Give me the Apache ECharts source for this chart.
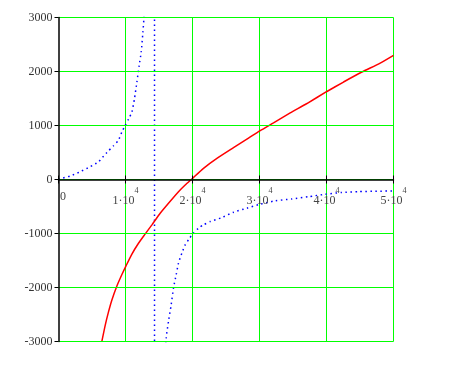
<!DOCTYPE html>
<html>
<head>
<meta charset="utf-8">
<script src="https://cdn.jsdelivr.net/npm/echarts@6/dist/echarts.min.js"></script>
<style>
html,body{margin:0;padding:0;background:#fff;}
#chart{width:458px;height:376px;}
</style>
</head>
<body>
<div id="chart"></div>
<script>
// axis ranges / ticks
var xTicks = [0, 10000, 20000, 30000, 40000, 50000];
var yTicks = [-3000, -2000, -1000, 0, 1000, 2000, 3000];

// red solid curve (x, y)
var redX = [6478, 6970, 7463, 7970, 8716, 9463, 10060, 10955, 11940, 12836, 13940, 15179, 16418, 17910, 18910, 19910, 21642, 23642, 26119, 28119, 30104, 32090, 34582, 37075, 40060, 42537, 45284, 48015, 50000];
var redY = [-2994, -2700, -2451, -2230, -1972, -1760, -1603, -1380, -1180, -1025, -840, -624, -439, -225, -102, 10, 207, 391, 590, 748, 905, 1050, 1233, 1407, 1630, 1805, 1990, 2156, 2300];

// blue dotted curve, left branch (last point is an off-scale estimate)
var blueLeftX = [0, 507, 1746, 3239, 4731, 5970, 7224, 8209, 8955, 9463, 9955, 10448, 10955, 11343, 11701, 12045, 12343, 12597, 12746, 13100];
var blueLeftY = [0, 22, 65, 144, 236, 329, 502, 624, 729, 882, 1000, 1117, 1252, 1499, 1805, 2114, 2359, 2728, 2976, 3700];
// jump across the pole near x = 14330
var poleX = [14320, 14340];
var poleY = [60000, -60000];
// blue dotted curve, right branch (first point is an off-scale estimate)
var blueRightX = [15800, 16075, 16418, 16821, 17164, 17567, 17910, 18418, 18910, 19507, 20000, 20896, 21642, 22642, 24388, 26119, 28119, 30104, 32343, 34836, 37313, 39806, 42299, 44776, 47269, 50000];
var blueRightY = [-3500, -2932, -2625, -2317, -2009, -1763, -1547, -1362, -1209, -1098, -1012, -901, -840, -779, -705, -606, -532, -458, -395, -360, -318, -273, -240, -225, -218, -212];

function pairs(xs, ys) { return xs.map(function (x, i) { return [x, ys[i]]; }); }

var chart = echarts.init(document.getElementById('chart'), null, {renderer: 'canvas'});
var labelFont = 'Liberation Serif';
var xMin = xTicks[0], xMax = xTicks[xTicks.length - 1];
var yMin = yTicks[0], yMax = yTicks[yTicks.length - 1];
var blueStyle = {color: '#0000ff', width: 1.5, type: [1.5, 3.5]};
var option = {
  animation: false,
  backgroundColor: '#ffffff',
  grid: [
    {left: 58.5, top: 17.5, width: 335, height: 324, containLabel: false},
    // upper half: its bottom edge is the y = 0 line, where the x axis sits
    {left: 58.5, top: 17.5, width: 335, height: 162, containLabel: false}
  ],
  xAxis: [{
    gridIndex: 0, position: 'bottom',
    type: 'value', min: xMin, max: xMax, interval: 10000,
    axisLine: {show: false}, axisTick: {show: false}, axisLabel: {show: false},
    splitLine: {show: true, showMinLine: false, lineStyle: {color: '#00ff00', width: 1}}
  }, {
    gridIndex: 1, position: 'bottom',
    type: 'value', min: xMin, max: xMax, interval: 10000, z: 5,
    axisLine: {show: true, onZero: false, lineStyle: {color: '#000', width: 1.5}},
    axisTick: {show: true, inside: false, length: 4, lineStyle: {color: '#000', width: 1}},
    splitLine: {show: false},
    axisLabel: {
      show: true, margin: 7.5, color: '#444', fontFamily: labelFont,
      formatter: function (v) {
        if (v === 0) return '{z|0}';
        return '{b|' + (v / 10000) + '\u00b710}{s|4}';
      },
      rich: {
        z: {fontSize: 12, fontFamily: labelFont, color: '#444', lineHeight: 20, padding: [0, 0, 0, 9]},
        b: {fontSize: 12, fontFamily: labelFont, color: '#444', lineHeight: 20, verticalAlign: 'bottom'},
        s: {fontSize: 8, fontFamily: labelFont, color: '#444', lineHeight: 8, verticalAlign: 'top'}
      }
    }
  }, {
    gridIndex: 1, position: 'bottom',
    type: 'value', min: xMin, max: xMax, interval: 10000, z: 5,
    axisLine: {show: false, onZero: false},
    axisTick: {show: true, inside: true, length: 4, lineStyle: {color: '#000', width: 1}},
    splitLine: {show: false},
    axisLabel: {show: false}
  }],
  yAxis: [{
    gridIndex: 0, position: 'left',
    type: 'value', min: yMin, max: yMax, interval: 1000, z: 4,
    axisLine: {show: true, onZero: false, lineStyle: {color: '#000', width: 1.5}},
    axisTick: {show: true, inside: false, length: 4, lineStyle: {color: '#000', width: 1}},
    splitLine: {show: true, lineStyle: {color: '#00ff00', width: 1}},
    axisLabel: {show: true, margin: 6, color: '#333', fontSize: 12, fontFamily: labelFont,
      formatter: function (v) { return String(v); }}
  }, {
    gridIndex: 1, position: 'left',
    type: 'value', min: 0, max: yMax, show: false,
    axisLine: {show: false, onZero: false}, splitLine: {show: false}
  }],
  series: [{
    type: 'line', xAxisIndex: 0, yAxisIndex: 0, data: pairs(blueLeftX, blueLeftY), symbol: 'none', clip: true, z: 3,
    smooth: 0.2, lineStyle: blueStyle
  }, {
    type: 'line', xAxisIndex: 0, yAxisIndex: 0, data: pairs(poleX, poleY), symbol: 'none', clip: true, z: 3,
    lineStyle: blueStyle
  }, {
    type: 'line', xAxisIndex: 0, yAxisIndex: 0, data: pairs(blueRightX, blueRightY), symbol: 'none', clip: true, z: 3,
    smooth: 0.2, lineStyle: blueStyle
  }, {
    type: 'line', xAxisIndex: 0, yAxisIndex: 0, data: pairs(redX, redY), symbol: 'none', clip: true, z: 3,
    smooth: 0.2, lineStyle: {color: '#ff0000', width: 1.5}
  }]
};
chart.setOption(option);
</script>
</body>
</html>
